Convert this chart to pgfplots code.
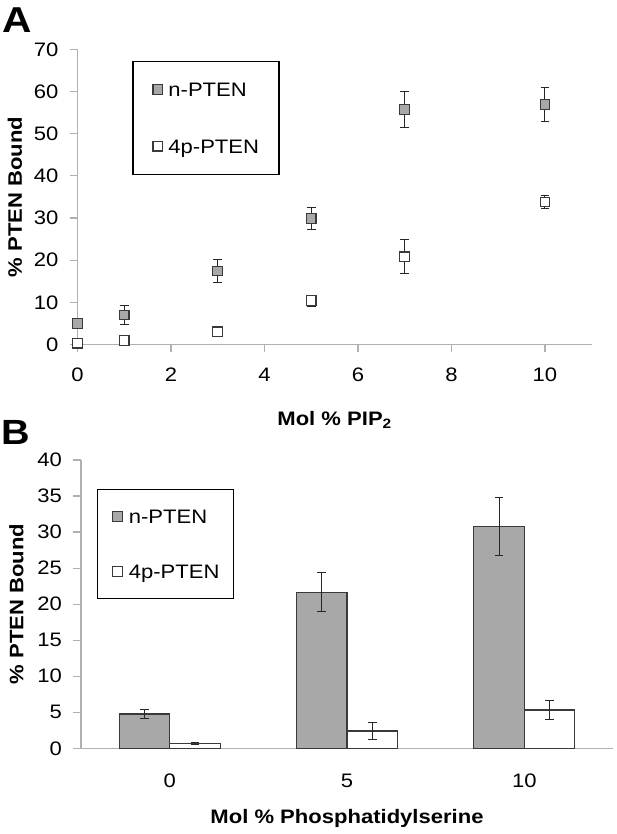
\documentclass[border=0pt]{standalone}
\usepackage{pgfplots}
\pgfplotsset{compat=1.18}
\usepackage{fontspec}
\setmainfont{Liberation Sans}[FakeStretch=1.13]
\definecolor{axgray}{HTML}{B0B0B0}
\definecolor{barfill}{HTML}{A8A8A8}
\definecolor{edge}{HTML}{3A3A3A}
\definecolor{errc}{HTML}{262626}

\pgfplotsset{
  common/.style={
    scale only axis, clip=false,
    axis lines=left,
    axis line style={draw=axgray, line width=1.3pt, -},
    tick align=outside,
    major tick length=8pt,
    tick style={draw=axgray, line width=1.2pt},
    /pgf/number format/assume math mode=true,
    ticklabel style={font=\fontsize{19.5}{22}\selectfont, inner sep=0pt},
    xticklabel style={anchor=north},
    yticklabel style={anchor=east},
    label style={font=\fontsize{19.5}{22}\selectfont\bfseries, inner sep=0pt},
    legend cell align=left,
    legend style={draw=black, line width=1.2pt, fill=white,
      font=\fontsize{19.5}{22}\selectfont,
      nodes={inner sep=0pt, text height=14pt, text depth=0pt},
      column sep=5.8pt, anchor=north west},
    error bars/error bar style={line width=1pt, draw=errc},
    error bars/error mark options={rotate=90, mark size=4.4pt, line width=1pt, draw=errc},
  }
}

\pgfplotstableread{
x y e
0 5.0 1.0
1 7.0 2.2
3 17.4 2.8
5 29.9 2.6
7 55.7 4.2
10 56.9 4.1
}\nPTENa
\pgfplotstableread{
x y e
0 0.3 0.4
1 0.9 0.6
3 3.0 0.7
5 10.4 1.3
7 20.8 4.0
10 33.8 1.6
}\fpPTENa
\pgfplotstableread{
x y e
0 4.76 0.67
1 21.67 2.72
2 30.78 4.08
}\nPTENb
\pgfplotstableread{
x y e
0 0.69 0.12
1 2.40 1.15
2 5.32 1.27
}\fpPTENb

\begin{document}
\begin{tikzpicture}
\useasboundingbox (0pt,0pt) rectangle (617pt,834pt);

\node[anchor=base west, inner sep=0pt, font=\fontsize{36}{36}\selectfont\bfseries] at (2pt,801pt) {A};
\node[anchor=base west, inner sep=0pt, font=\fontsize{35}{35}\selectfont\bfseries] at (1pt,389pt) {B};

\begin{axis}[common,
  at={(77.5pt,489.5pt)}, anchor=south west,
  width=514.2pt, height=295.2pt,
  xmin=0, xmax=11, ymin=0, ymax=70,
  xtick={0,2,4,6,8,10}, ytick={0,10,20,30,40,50,60,70},
  xticklabel shift=15pt, yticklabel shift=11pt,
  xlabel={Mol \% PIP\textsubscript{2}},
  ylabel={\% PTEN Bound},
  xlabel style={at={(axis description cs:0.5,-0.2737)}, anchor=base},
  ylabel style={at={(axis description cs:-0.1081,0.5)}, anchor=base},
  legend style={at={(rel axis cs:0.1068,0.9604)}, inner xsep=20pt, inner ysep=21pt, row sep=42.6pt},
  legend image code/.code={\draw[mark repeat=2, mark phase=2, #1] plot coordinates {(0pt,0pt) (5pt,0pt) (10pt,0pt)};},
]
\addplot[only marks, mark=square*, mark size=4.8pt, mark options={fill=barfill, draw=edge, line width=1.1pt}]
  table[x=x, y=y] {\nPTENa};
\addlegendentry{n-PTEN}
\addplot[only marks, mark=square*, mark size=4.8pt, mark options={fill=white, draw=edge, line width=1.1pt}]
  table[x=x, y=y] {\fpPTENa};
\addlegendentry{4p-PTEN}
\addplot[forget plot, draw=none, mark=none,
  error bars/.cd, y dir=both, y explicit]
  table[x=x, y=y, y error=e] {\nPTENa};
\addplot[forget plot, draw=none, mark=none,
  error bars/.cd, y dir=both, y explicit]
  table[x=x, y=y, y error=e] {\fpPTENa};
\end{axis}

\begin{axis}[common,
  at={(81pt,85.7pt)}, anchor=south west,
  width=532pt, height=288.3pt,
  xmin=-0.5, xmax=2.5, ymin=0, ymax=40,
  xtick={0,1,2}, xticklabels={0,5,10},
  x tick style={draw=none},
  ytick={0,5,10,15,20,25,30,35,40},
  xticklabel shift=17.5pt, yticklabel shift=11pt,
  ybar=0pt, bar width=50.5pt,
  xlabel={Mol \% Phosphatidylserine},
  ylabel={\% PTEN Bound},
  xlabel style={at={(axis description cs:0.5,-0.262)}, anchor=base},
  ylabel style={at={(axis description cs:-0.1081,0.5)}, anchor=base},
  legend style={at={(rel axis cs:0.0306,0.8994)}, inner xsep=14pt, inner ysep=20pt, row sep=41pt},
  legend image code/.code={\draw[#1] (0pt,-5pt) rectangle (10pt,5pt);},
]
\addplot[fill=barfill, draw=edge, line width=1.2pt,
  error bars/.cd, y dir=both, y explicit]
  table[x=x, y=y, y error=e] {\nPTENb};
\addlegendentry{n-PTEN}
\addplot[fill=white, draw=edge, line width=1.2pt,
  error bars/.cd, y dir=both, y explicit]
  table[x=x, y=y, y error=e] {\fpPTENb};
\addlegendentry{4p-PTEN}
\end{axis}
\end{tikzpicture}
\end{document}
